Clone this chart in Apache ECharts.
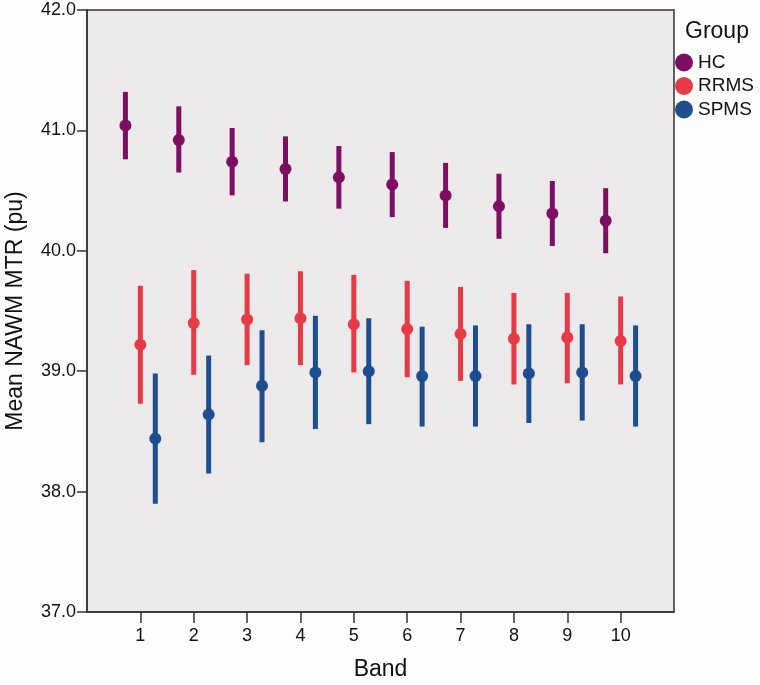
<!DOCTYPE html>
<html>
<head>
<meta charset="utf-8">
<script src="https://cdn.jsdelivr.net/npm/echarts@6/dist/echarts.min.js"></script>
<style>
html,body{margin:0;padding:0;background:#fdfdfd;}
#chart{width:760px;height:685px;}
</style>
</head>
<body>
<div id="chart"></div>
<script>
var bands = [1, 2, 3, 4, 5, 6, 7, 8, 9, 10];
var groups = ['HC', 'RRMS', 'SPMS'];
var yTicks = [37, 38, 39, 40, 41, 42];

var hcMean = [41.04, 40.92, 40.74, 40.68, 40.61, 40.55, 40.46, 40.37, 40.31, 40.25];
var hcLow  = [40.76, 40.65, 40.46, 40.41, 40.35, 40.28, 40.19, 40.10, 40.04, 39.98];
var hcHigh = [41.32, 41.20, 41.02, 40.95, 40.87, 40.82, 40.73, 40.64, 40.58, 40.52];

var rrMean = [39.22, 39.40, 39.43, 39.44, 39.39, 39.35, 39.31, 39.27, 39.28, 39.25];
var rrLow  = [38.73, 38.97, 39.05, 39.05, 38.99, 38.95, 38.92, 38.89, 38.90, 38.89];
var rrHigh = [39.71, 39.84, 39.81, 39.83, 39.80, 39.75, 39.70, 39.65, 39.65, 39.62];

var spMean = [38.44, 38.64, 38.88, 38.99, 39.00, 38.96, 38.96, 38.98, 38.99, 38.96];
var spLow  = [37.90, 38.15, 38.41, 38.52, 38.56, 38.54, 38.54, 38.57, 38.59, 38.54];
var spHigh = [38.98, 39.13, 39.34, 39.46, 39.44, 39.37, 39.38, 39.39, 39.39, 39.38];

var colors = ['#7c0f62', '#e63a46', '#1d4e8f'];
var shifts = [-0.28, 0, 0.28];

function buildData(mean, low, high) {
  return bands.map(function (b, i) { return [b, mean[i], low[i], high[i]]; });
}
var seriesData = [buildData(hcMean, hcLow, hcHigh), buildData(rrMean, rrLow, rrHigh), buildData(spMean, spLow, spHigh)];

var FONT = 'Liberation Sans, Arial, sans-serif';

function makeRender(gi) {
  return function (params, api) {
    var x = api.value(0), m = api.value(1), lo = api.value(2), hi = api.value(3);
    var unit = api.size([1, 0])[0];
    var dx = shifts[gi] * unit;
    var pm = api.coord([x, m]);
    var pl = api.coord([x, lo]);
    var ph = api.coord([x, hi]);
    var cx = pm[0] + dx;
    var col = colors[gi];
    return {
      type: 'group',
      children: [
        { type: 'line', shape: { x1: cx, y1: ph[1], x2: cx, y2: pl[1] },
          style: { stroke: col, lineWidth: 5, lineCap: 'butt' } },
        { type: 'circle', shape: { cx: cx, cy: pm[1], r: 6 },
          style: { fill: col } }
      ]
    };
  };
}

var series = groups.map(function (g, gi) {
  return {
    name: g,
    type: 'custom',
    renderItem: makeRender(gi),
    itemStyle: { color: colors[gi] },
    encode: { x: 0, y: [1, 2, 3] },
    data: seriesData[gi],
    z: 3
  };
});

var chart = echarts.init(document.getElementById('chart'), null, { renderer: 'canvas' });
chart.setOption({
  backgroundColor: '#fdfdfd',
  animation: false,
  title: {
    text: 'Group', left: 685, top: 20, padding: 0,
    textStyle: { fontFamily: FONT, fontSize: 23, fontWeight: 'normal', color: '#111' }
  },
  legend: {
    orient: 'vertical', left: 675, top: 53, padding: 0,
    itemWidth: 18, itemHeight: 18, itemGap: 4.5,
    data: groups.map(function (g) { return { name: g, icon: 'circle' }; }),
    textStyle: { fontFamily: FONT, fontSize: 19, color: '#111' }
  },
  grid: {
    left: 87, right: 86, top: 10, bottom: 73,
    outerBoundsMode: 'none',
    show: true, backgroundColor: '#ece9ea', borderColor: '#333', borderWidth: 1.5
  },
  xAxis: {
    type: 'value', min: 0, max: 11, interval: 1,
    name: 'Band', nameLocation: 'middle', nameGap: 46,
    nameTextStyle: { fontFamily: FONT, fontSize: 23, color: '#111' },
    axisLine: { show: true, lineStyle: { color: '#333', width: 1.5 } },
    axisTick: { show: true, length: 11, lineStyle: { color: '#333', width: 1.5 }, customValues: bands },
    axisLabel: { fontFamily: FONT, fontSize: 18, color: '#111', margin: 15, customValues: bands },
    splitLine: { show: false }
  },
  yAxis: {
    type: 'value', min: 37, max: 42, interval: 1,
    name: 'Mean NAWM MTR (pu)', nameLocation: 'middle', nameGap: 60,
    nameTextStyle: { fontFamily: FONT, fontSize: 23, color: '#111' },
    axisLine: { show: true, lineStyle: { color: '#333', width: 1.5 } },
    axisTick: { show: true, length: 10, lineStyle: { color: '#333', width: 1.5 } },
    axisLabel: { fontFamily: FONT, fontSize: 18, color: '#111', margin: 11,
      formatter: function (v) { return v.toFixed(1); } },
    splitLine: { show: false }
  },
  series: series
});
</script>
</body>
</html>
